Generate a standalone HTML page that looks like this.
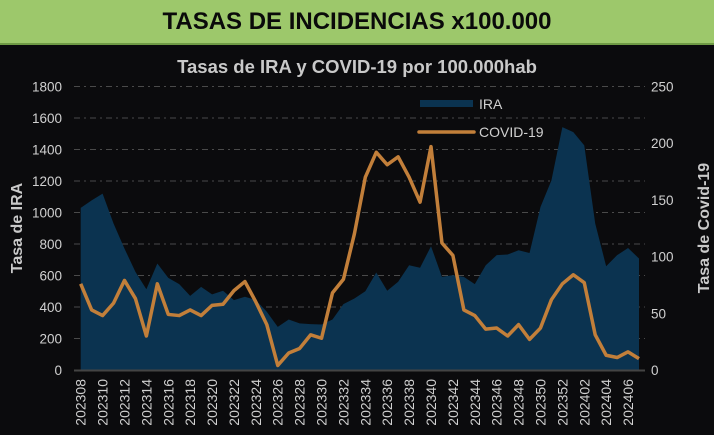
<!DOCTYPE html>
<html><head><meta charset="utf-8"><style>
body{margin:0;width:714px;height:435px;background:#0b0b0d;overflow:hidden;font-family:"Liberation Sans",sans-serif}
#hdr{position:absolute;left:0;top:0;width:714px;height:45px;background:#9dc86b;border-bottom:2px solid #6f9a45;box-sizing:border-box;text-align:center;font-weight:bold;font-size:24px;line-height:44px;color:#0a0a0a}
svg{position:absolute;left:0;top:0}
</style></head><body>
<div id="hdr">TASAS DE INCIDENCIAS x100.000</div>
<svg id="c" width="714" height="435"></svg>
<script>
const weeks=["202308","202309","202310","202311","202312","202313","202314","202315","202316","202317","202318","202319","202320","202321","202322","202323","202324","202325","202326","202327","202328","202329","202330","202331","202332","202333","202334","202335","202336","202337","202338","202339","202340","202341","202342","202343","202344","202345","202346","202347","202348","202349","202350","202351","202352","202401","202402","202403","202404","202405","202406","202407"];
const ira=[1029,1077,1120,930,771,623,513,676,585,545,471,528,480,503,444,465,444,370,274,321,296,291,289,321,418,454,500,619,503,560,665,649,786,591,602,591,545,665,729,733,760,743,1035,1204,1542,1510,1426,930,659,729,775,708];
const covid=[76,53,48,59,79,63,30,76,49,48,53,48,57,58,70,78,60,40,4,15,19,31,28,68,80,120,170,192,181,188,170,148,197,112,101,53,48,36,37,30,40,27,37,62,76,84,77,31,13,11,16,10];
const leftTicks=[0,200,400,600,800,1000,1200,1400,1600,1800];
const rightTicks=[0,50,100,150,200,250];
const NS="http://www.w3.org/2000/svg",svg=document.getElementById('c');
const x0=80.7,x1=639,yb=370,yt=86.5;
const X=i=>x0+(x1-x0)*i/(weeks.length-1);
const YL=v=>yb-(yb-yt)*v/1800;
const YR=v=>yb-(yb-yt)*v/250;
function mk(t,a,txt){const e=document.createElementNS(NS,t);for(const k in a)e.setAttribute(k,a[k]);if(txt!==undefined)e.textContent=txt;svg.appendChild(e);return e;}
const title=mk('text',{x:357,y:73,'text-anchor':'middle','font-size':18.5,'font-weight':'bold',fill:'#c9c9c9'},'Tasas de IRA y COVID-19 por 100.000hab');


leftTicks.forEach(v=>{
 if(v>0){const g=mk('line',{x1:74,x2:645,y1:YL(v),y2:YL(v),stroke:'#4a4a4a','stroke-width':1,'stroke-dasharray':'6 4 2 4'});
 
 }
 const t=mk('text',{x:62,y:YL(v)+5,'text-anchor':'end','font-size':13.5,fill:'#d0d0d0'},v);
 
 
});
rightTicks.forEach(v=>{
 const t=mk('text',{x:651,y:YR(v)+5,'font-size':13.5,fill:'#d0d0d0'},v);
 
 
});
let d='M'+X(0)+','+yb;ira.forEach((v,i)=>d+=' L'+X(i)+','+YL(v));d+=' L'+X(ira.length-1)+','+yb+' Z';
const area=mk('path',{d:d,fill:'#0b3350'});


const ax=mk('line',{x1:74,x2:645,y1:yb+0.5,y2:yb+0.5,stroke:'#444','stroke-width':2});


const ln=mk('polyline',{points:covid.map((v,i)=>X(i)+','+YR(v)).join(' '),fill:'none',stroke:'#c27f3a','stroke-width':3.5,'stroke-linejoin':'round'});


weeks.forEach((w,i)=>{if(i%2)return;
 const t=mk('text',{x:0,y:0,'font-size':14,fill:'#d0d0d0','text-anchor':'end',transform:`translate(${X(i)+5},379) rotate(-90)`},w);
 
 
});
const yl=mk('text',{x:0,y:0,'font-size':16,'font-weight':'bold',fill:'#c9c9c9','text-anchor':'middle',transform:'translate(22,228) rotate(-90)'},'Tasa de IRA');


const yr=mk('text',{x:0,y:0,'font-size':16,'font-weight':'bold',fill:'#c9c9c9','text-anchor':'middle',transform:'translate(709,228) rotate(-90)'},'Tasa de Covid-19');


const l1=mk('rect',{x:420,y:100,width:53,height:7,fill:'#0b3350'});


const l1t=mk('text',{x:479,y:109,'font-size':14,fill:'#d0d0d0'},'IRA');


const l2=mk('line',{x1:419,x2:474,y1:132,y2:132,stroke:'#c27f3a','stroke-width':3.5,'stroke-linecap':'round'});


const l2t=mk('text',{x:479,y:137,'font-size':14,fill:'#d0d0d0'},'COVID-19');


</script>
</body></html>
